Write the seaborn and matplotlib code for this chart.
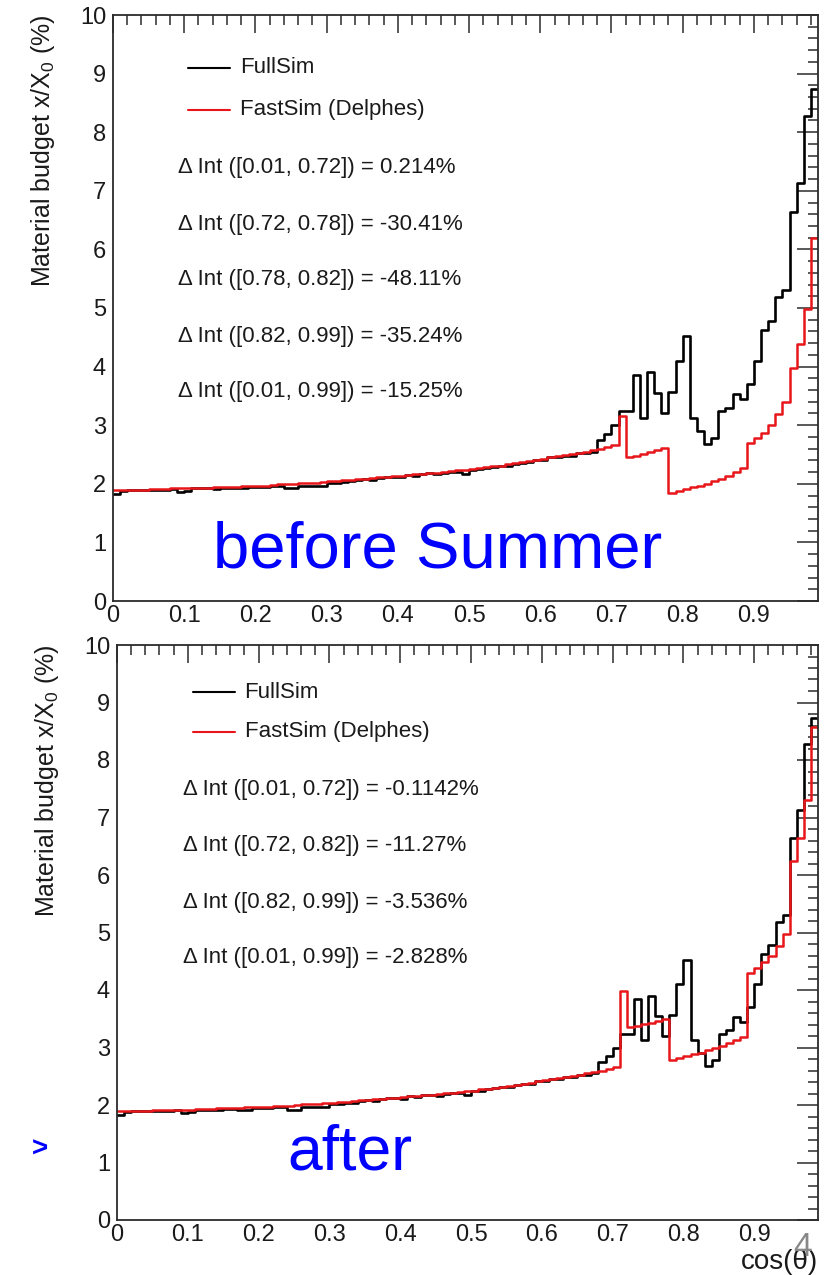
import numpy as np
import pandas as pd
import matplotlib
matplotlib.use('Agg')
import matplotlib.pyplot as plt
from matplotlib.ticker import MultipleLocator
import seaborn as sns

# binning of the material-budget histograms (cos(theta) from 0 to 0.99)
BIN_W = 0.01
N_BINS = 99

# FullSim material budget per bin (%), bins 0.00 .. 0.98
fullsim = [
    1.83, 1.88, 1.89, 1.89, 1.90, 1.89, 1.90, 1.90, 1.91, 1.86,
    1.87, 1.92, 1.92, 1.92, 1.91, 1.93, 1.93, 1.92, 1.92, 1.94,
    1.95, 1.95, 1.96, 1.96, 1.92, 1.92, 1.96, 1.96, 1.97, 1.97,
    2.02, 2.02, 2.03, 2.04, 2.07, 2.08, 2.07, 2.10, 2.12, 2.12,
    2.11, 2.15, 2.14, 2.17, 2.18, 2.16, 2.19, 2.20, 2.20, 2.17,
    2.24, 2.25, 2.27, 2.29, 2.31, 2.31, 2.34, 2.36, 2.37, 2.41,
    2.41, 2.45, 2.45, 2.48, 2.48, 2.53, 2.53, 2.55, 2.75, 2.85,
    3.00, 3.24, 3.24, 3.85, 3.13, 3.90, 3.55, 3.20, 3.57, 4.10,
    4.53, 3.13, 2.90, 2.68, 2.78, 3.24, 3.30, 3.53, 3.44, 3.70,
    4.10, 4.62, 4.78, 5.19, 5.31, 6.64, 7.13, 8.28, 8.73,
]

# FastSim (Delphes), common part for bins 0.00 .. 0.70
fast_low = [
    1.89, 1.89, 1.90, 1.90, 1.90, 1.91, 1.91, 1.91, 1.92, 1.92,
    1.92, 1.93, 1.93, 1.93, 1.94, 1.94, 1.95, 1.95, 1.96, 1.96,
    1.97, 1.97, 1.98, 1.99, 1.99, 2.00, 2.01, 2.01, 2.02, 2.03,
    2.04, 2.05, 2.06, 2.07, 2.08, 2.09, 2.10, 2.11, 2.12, 2.13,
    2.14, 2.15, 2.16, 2.17, 2.18, 2.19, 2.20, 2.21, 2.23, 2.24,
    2.25, 2.27, 2.28, 2.30, 2.31, 2.33, 2.35, 2.37, 2.39, 2.41,
    2.43, 2.45, 2.47, 2.49, 2.51, 2.53, 2.55, 2.57, 2.60, 2.63,
    2.66,
]
# FastSim bins 0.71 .. 0.98
fast_high_before = [
    3.16, 2.45, 2.48, 2.51, 2.54, 2.57, 2.61, 1.85, 1.88, 1.91,
    1.94, 1.97, 2.00, 2.04, 2.08, 2.13, 2.20, 2.27, 2.70, 2.79,
    2.87, 3.00, 3.19, 3.39, 3.98, 4.38, 4.98, 6.20,
]
fast_high_after = [
    3.99, 3.36, 3.38, 3.41, 3.43, 3.46, 3.49, 2.79, 2.82, 2.85,
    2.88, 2.91, 2.95, 2.99, 3.03, 3.08, 3.13, 3.18, 4.30, 4.39,
    4.48, 4.60, 4.77, 4.97, 6.25, 6.65, 7.30, 8.58,
]

deltas_before = [
    "\u0394 Int ([0.01, 0.72]) = 0.214%",
    "\u0394 Int ([0.72, 0.78]) = -30.41%",
    "\u0394 Int ([0.78, 0.82]) = -48.11%",
    "\u0394 Int ([0.82, 0.99]) = -35.24%",
    "\u0394 Int ([0.01, 0.99]) = -15.25%",
]
deltas_after = [
    "\u0394 Int ([0.01, 0.72]) = -0.1142%",
    "\u0394 Int ([0.72, 0.82]) = -11.27%",
    "\u0394 Int ([0.82, 0.99]) = -3.536%",
    "\u0394 Int ([0.01, 0.99]) = -2.828%",
]
labels = ['FullSim', 'FastSim (Delphes)']

RED = '#e8161b'
AXC = '#2b2b2b'
BLUE = '#0000ff'

edges = (np.arange(N_BINS + 1) * BIN_W).tolist()
centers = [e + BIN_W / 2 for e in edges[:-1]]

sns.set_theme(style='white')
plt.rcParams['font.family'] = ['Liberation Sans', 'DejaVu Sans']
plt.rcParams['mathtext.fontset'] = 'custom'
plt.rcParams['mathtext.rm'] = 'Liberation Sans'
plt.rcParams['mathtext.it'] = 'Liberation Sans:italic'

fig = plt.figure(figsize=(8.3, 12.75), dpi=100)
fig.patch.set_facecolor('white')
ax_top = fig.add_axes([113 / 830, 1 - 601 / 1275, 705 / 830, 586 / 1275])
ax_bot = fig.add_axes([117 / 830, 1 - 1220 / 1275, 701 / 830, 575 / 1275])


def draw_panel(ax, fast, deltas, leg_y, delta_x, delta_y, leg_x):
    df = pd.DataFrame({'x': centers, 'full': fullsim, 'fast': fast})
    sns.histplot(data=df, x='x', weights='full', bins=edges, element='step',
                 fill=False, color='black', lw=1.9, ax=ax)
    sns.histplot(data=df, x='x', weights='fast', bins=edges, element='step',
                 fill=False, color=RED, lw=1.8, ax=ax)
    ax.xaxis.set_minor_locator(MultipleLocator(0.02))
    ax.yaxis.set_minor_locator(MultipleLocator(0.2))
    ax.set_xticks(np.arange(10) * 0.1)
    ax.set_xticklabels(['0'] + ['%.1f' % v for v in np.arange(1, 10) * 0.1])
    ax.set_yticks(range(11))
    ax.set_yticklabels([str(v) for v in range(11)])
    ax.set_xlim(0, 0.99)
    ax.set_ylim(0, 10)
    ax.tick_params(which='both', direction='in', top=True, right=True,
                   color=AXC, width=1.1, labelsize=17, labelcolor='#1a1a1a')
    ax.tick_params(axis='x', which='major', length=13, pad=3)
    ax.tick_params(axis='x', which='minor', length=7)
    ax.tick_params(axis='y', which='major', length=15, pad=5)
    ax.tick_params(axis='y', which='minor', length=7.5)
    for sp in ax.spines.values():
        sp.set_color(AXC)
        sp.set_linewidth(1.3)
    ax.set_xlabel('')
    ax.set_ylabel('Material budget x/X$_\\mathregular{0}$ (%)', fontsize=18,
                  loc='top', color='#1a1a1a')
    ax.yaxis.set_label_coords(-0.08, 1.0)

    # legend entries
    for lbl, col, yy in zip(labels, ['black', RED], leg_y):
        ax.plot([leg_x, leg_x + 0.06], [yy, yy], transform=ax.transAxes,
                color=col, lw=1.5)
        ax.text(leg_x + 0.074, yy, lbl, transform=ax.transAxes, fontsize=16,
                va='center', ha='left', color='#1a1a1a')
    for txt, yy in zip(deltas, delta_y):
        ax.text(delta_x, yy, txt, transform=ax.transAxes, fontsize=16,
                va='center', ha='left', color='#1a1a1a')


draw_panel(ax_top, fast_low + fast_high_before, deltas_before,
           [0.9096, 0.838], 0.092, [0.739, 0.643, 0.548, 0.452, 0.357], 0.106)
draw_panel(ax_bot, fast_low + fast_high_after, deltas_after,
           [0.918, 0.849], 0.094, [0.748, 0.652, 0.553, 0.457], 0.108)

ax_top.text(0.461, 0.058, 'before Summer', transform=ax_top.transAxes,
            fontsize=47, color=BLUE, ha='center', va='baseline')
ax_bot.text(0.332, 0.087, 'after', transform=ax_bot.transAxes,
            fontsize=45, color=BLUE, ha='center', va='baseline')

fig.text(40 / 830, 1 - 1150 / 1275, '>', fontsize=20, fontweight='bold',
         color=BLUE, ha='center', va='center')
fig.text(818 / 830, 1 - 1262 / 1275, 'cos(\u03b8)', fontsize=20,
         color='#1a1a1a', ha='right', va='center')
fig.text(803 / 830, 1 - 1248 / 1275, '4', fontsize=24, color='#888888',
         ha='center', va='center')

fig.savefig('out.png', dpi=100, facecolor='white')
